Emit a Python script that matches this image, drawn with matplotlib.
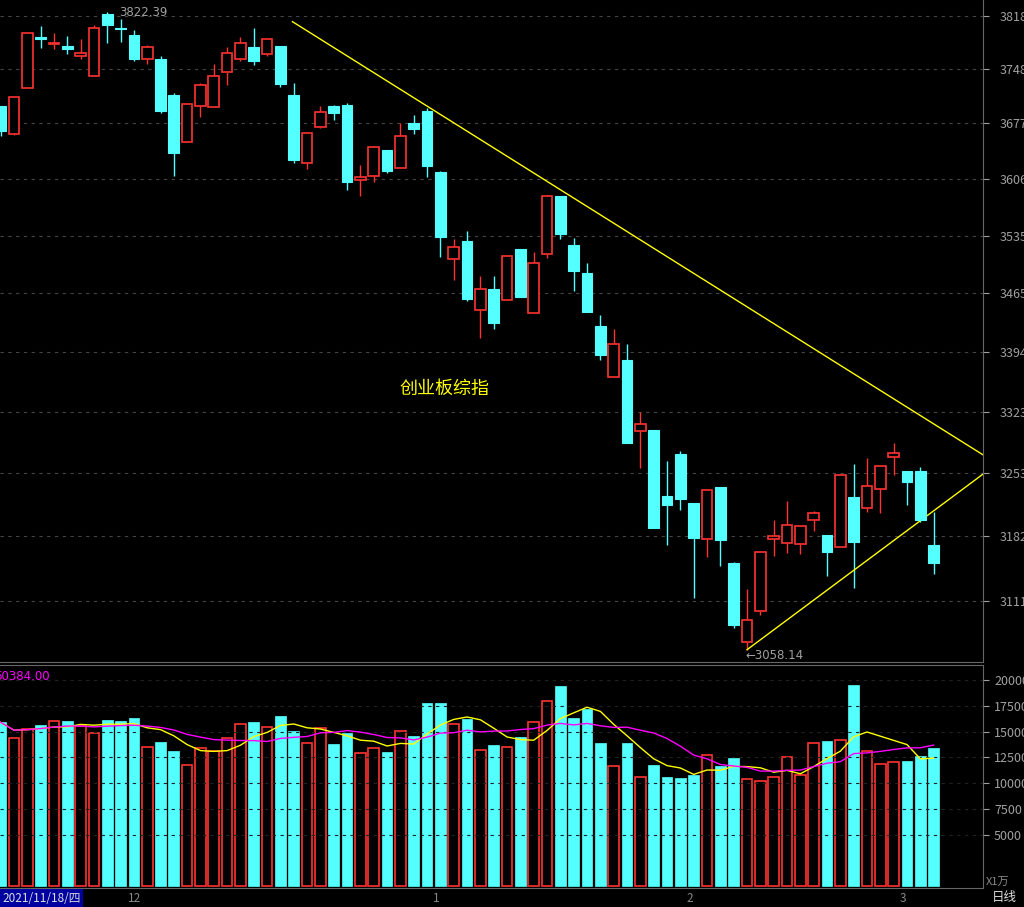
import matplotlib
matplotlib.use("Agg")
import matplotlib.pyplot as plt
import numpy as np
import pandas as pd

opens = [3699,3663,3723,3789,3780,3778,3765,3738,3820,3801,3792,3761,3761,3714,3653,3699,3698,3744,3761,3777,
         3767,3778,3714,3626,3672,3699,3700,3604,3610,3643,3620,3677,3693,3615,3506,3529,3444,3470,3456,3518,
         3441,3513,3584,3524,3489,3425,3364,3384,3302,3303,3227,3275,3219,3179,3237,3152,3066,3100,3179,3175,
         3173,3200,3183,3170,3226,3214,3235,3272,3256,3256,3172]
highs = [3699,3711,3795,3804,3795,3791,3787,3805,3822.39,3813,3799,3779,3765,3716,3702,3729,3754,3777,3789,3801,
         3787,3778,3729,3664,3699,3700,3703,3624,3648,3643,3677,3687,3696,3616,3531,3541,3486,3486,3510,3518,
         3515,3586,3584,3532,3501,3438,3421,3404,3324,3303,3267,3278,3219,3234,3237,3154,3124,3165,3200,3222,
         3194,3210,3183,3251,3264,3270,3261,3288,3256,3260,3209]
lows = [3661,3662,3722,3775,3774,3767,3760,3738,3782,3783,3758,3754,3690,3610,3653,3685,3698,3727,3758,3753,
        3765,3724,3626,3619,3671,3681,3592,3584,3602,3613,3620,3663,3608,3509,3480,3455,3411,3422,3456,3460,
        3441,3508,3531,3467,3442,3385,3364,3288,3259,3191,3172,3211,3114,3159,3149,3081,3058.14,3095,3160,3163,
        3162,3188,3138,3170,3125,3209,3208,3251,3217,3198,3140]
closes = [3667,3711,3795,3787,3782,3774,3769,3802,3806,3800,3761,3777,3693,3639,3702,3726,3738,3769,3782,3758,
          3787,3728,3630,3664,3691,3690,3602,3608,3647,3616,3661,3669,3622,3534,3521,3458,3470,3429,3510,3460,
          3501,3584,3537,3492,3442,3390,3404,3288,3310,3191,3217,3224,3180,3234,3178,3085,3090,3165,3182,3195,
          3194,3208,3165,3251,3176,3239,3261,3276,3243,3200,3152]
volumes = [15900,14370,15250,15630,16020,16020,15540,14860,16120,16020,16310,13500,13980,13110,11750,13400,13110,14370,15730,15920,
           15440,16510,15050,13890,15340,13790,14860,12910,13400,13010,15050,14570,17770,17770,15730,16220,13200,13690,13500,14470,
           15920,17960,19420,16310,17190,13890,11650,13890,10580,11750,10580,10490,10780,12720,11650,12430,10390,10200,10580,12530,
           10780,13890,14080,14180,19520,13110,11850,12040,12140,12620,13400]
price_ticks = [3818,3748,3677,3606,3535,3465,3394,3323,3253,3182,3111]
vol_ticks = [20000,17500,15000,12500,10000,7500,5000]
month_labels = ["12","1","2","3"]
month_pos = [9.3,32.2,51.2,67.2]
title = "创业板综指"

RED = "#ff3232"; CYAN = "#54ffff"; GRID = "#444444"; TXT = "#a0a0a0"
plt.rcParams['font.family'] = ['Noto Sans CJK SC', 'DejaVu Sans']

n = len(opens)
x = np.arange(n)
o = np.array(opens, float); c = np.array(closes, float)
up = c >= o

fig = plt.figure(figsize=(10.24, 9.07), dpi=100, facecolor="black")
W, H = 1024, 907
def axpos(l, t, r, b):
    return [l / W, (H - b) / H, (r - l) / W, (b - t) / H]

ax = fig.add_axes(axpos(0, 0, 983, 662), facecolor="black")
ax.set_yscale("log")
ax.set_xlim(-0.04, 73.7)
ax.set_ylim(3045, 3839)
for p in price_ticks:
    ax.axhline(p, color=GRID, lw=0.8, ls=(0, (3, 4)))
bw = 0.8
for i in range(n):
    col = RED if up[i] else CYAN
    lo_b, hi_b = min(o[i], c[i]), max(o[i], c[i])
    ax.vlines(i, lows[i], lo_b, color=col, lw=1)
    ax.vlines(i, hi_b, highs[i], color=col, lw=1)
    hgt = max(hi_b - lo_b, 0.6)
    if up[i]:
        ax.bar(i, hgt, bottom=lo_b, width=bw, facecolor="black", edgecolor=RED, lw=1.2, zorder=3)
    else:
        ax.bar(i, hgt, bottom=lo_b, width=bw, facecolor=CYAN, edgecolor=CYAN, lw=0.8, zorder=3)
# trend lines
ax.plot([21.9, 73.7], [3810, 3274], color="#ffff00", lw=1)
ax.plot([56, 73.7], [3058.14, 3252], color="#ffff00", lw=1)
ax.annotate("3822.39", xy=(8.3, 3822.39), xytext=(8.9, 3822.39), color=TXT, fontsize=8.5,
            va="center", family="DejaVu Sans")
ax.annotate("←3058.14", xy=(56, 3058.14), xytext=(55.9, 3052), color=TXT, fontsize=8.5,
            va="center", family="DejaVu Sans")
ax.text(29.9, 3350, title, color="#ffff00", fontsize=13, va="center")
for s in ax.spines.values():
    s.set_visible(False)
ax.spines["right"].set_visible(True); ax.spines["right"].set_color("#666666")
ax.spines["bottom"].set_visible(True); ax.spines["bottom"].set_color("#666666")
ax.set_xticks([]); ax.yaxis.tick_right()
ax.set_yticks(price_ticks); ax.set_yticklabels([str(p) for p in price_ticks])
ax.minorticks_off()
ax.tick_params(axis="y", colors=TXT, labelcolor=TXT, labelsize=9, length=4, direction="out", pad=8)

av = fig.add_axes(axpos(0, 665, 983, 888), facecolor="black")
av.set_xlim(-0.04, 73.7)
av.set_ylim(-194, 21460)
for v in vol_ticks:
    av.axhline(v, color="#222222", lw=0.8, ls=(0, (3, 4)))
for i in range(n):
    if up[i]:
        av.bar(i, volumes[i], width=bw, facecolor="black", edgecolor=RED, lw=1.2)
    else:
        av.bar(i, volumes[i], width=bw, facecolor=CYAN, edgecolor=CYAN, lw=0.5)
vs = pd.Series(volumes, dtype=float)
av.plot(x, vs.rolling(5, min_periods=1).mean(), color="#ffff00", lw=1)
av.plot(x, vs.rolling(10, min_periods=1).mean(), color="#ff00ff", lw=1)
av.text(-0.5, 21000, "60384.00", color="#ff00ff", fontsize=8.5, va="top", family="DejaVu Sans")
for s in av.spines.values():
    s.set_color("#666666")
av.spines["left"].set_visible(False)
av.set_xticks([]); av.yaxis.tick_right()
av.set_yticks(vol_ticks); av.set_yticklabels([str(v) for v in vol_ticks])
av.tick_params(axis="y", colors=TXT, labelcolor=TXT, labelsize=9, length=4, pad=4)

# bottom strip
fig.text(2 / W, (H - 898) / H, "2021/11/18/四", color="#dddddd", fontsize=8.5, va="center",
         bbox=dict(facecolor="#0000a0", edgecolor="none", pad=1.5))
for lab, pos in zip(month_labels, month_pos):
    xf = (pos * 13.33 + 0.5) / W
    fig.text(xf + 3 / W, (H - 898) / H, lab, color="#888888", fontsize=8.5, va="center")
fig.text(986 / W, (H - 882) / H, "X1万", color="#888888", fontsize=8, va="center")
fig.text(992 / W, (H - 898) / H, "日线", color="#dddddd", fontsize=9, va="center")

fig.savefig("out.png", dpi=100, facecolor="black")
